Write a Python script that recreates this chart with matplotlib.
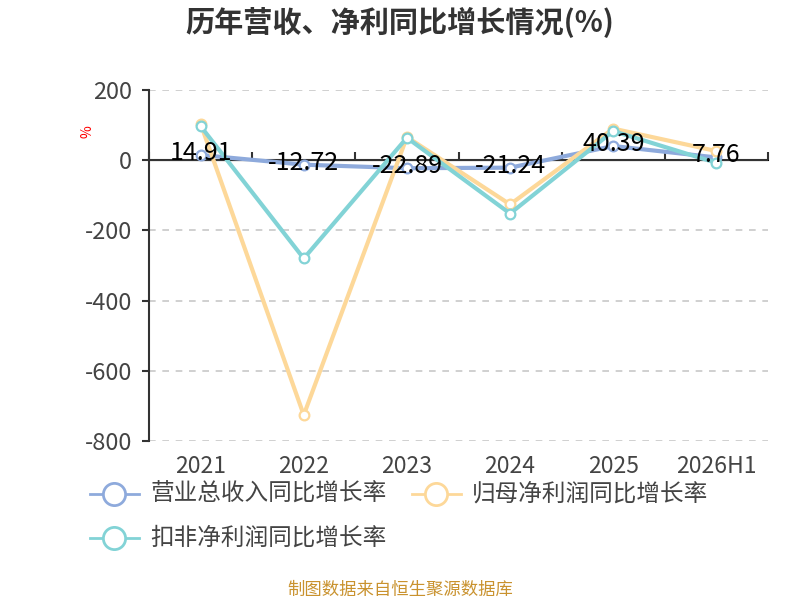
import matplotlib
matplotlib.use("Agg")
import matplotlib.pyplot as plt
from matplotlib.lines import Line2D

plt.rcParams['font.family'] = ['Noto Sans CJK SC', 'DejaVu Sans']
plt.rcParams['axes.unicode_minus'] = False

# data
years = ['2021', '2022', '2023', '2024', '2025', '2026H1']
revenue = [14.91, -12.72, -22.89, -21.24, 40.39, 7.76]
net_profit = [104, -726, 66, -126, 90, 26]
deducted = [97, -280, 64, -152, 83, -7.5]
names = ['营业总收入同比增长率', '归母净利润同比增长率', '扣非净利润同比增长率']
colors = ['#8eaadc', '#fdd899', '#82d3d6']

fig = plt.figure(figsize=(8, 6), dpi=100)
ax = fig.add_axes([0.18625, 0.265, 0.77375, 0.585])

x = list(range(len(years)))
# zero axis line
ax.axhline(0, color='#333333', lw=1.5, zorder=2)
for i, ys in enumerate([revenue, net_profit, deducted]):
    ax.plot(x, ys, color=colors[i], lw=3, marker='o', ms=7,
            mfc='white', mec=colors[i], mew=1.6, zorder=3 + i, clip_on=False)

for xi, v in zip(x, revenue):
    ax.annotate(f'{v:.2f}', (xi, v), xytext=(0, 1.5), textcoords='offset points',
                ha='center', va='center', fontsize=18, color='black', zorder=10)

ax.set_xlim(-0.5, len(years) - 0.5)
ax.set_ylim(-800, 200)
ax.set_yticks([200, 0, -200, -400, -600, -800])
ax.yaxis.grid(True, ls=(0, (4, 4)), color='#c8c8c8', lw=1.2)
ax.set_axisbelow(True)
ax.tick_params(axis='y', length=5, width=1.5, color='#333333', labelsize=17,
               labelcolor='#444444', pad=7)
ax.set_xticks(x)
ax.set_xticklabels(years)
ax.tick_params(axis='x', length=0, labelsize=16.5, labelcolor='#444444', pad=10)
for s in ['top', 'right', 'bottom']:
    ax.spines[s].set_visible(False)
ax.spines['left'].set_color('#333333')
ax.spines['left'].set_linewidth(1.5)

# boundary ticks on the zero line
sec = ax.secondary_xaxis(0.8)
sec.set_xticks([i - 0.5 for i in range(len(years) + 1)])
sec.set_xticklabels([])
sec.tick_params(length=6, width=1.5, color='#333333', direction='out')
sec.spines['bottom'].set_visible(False)

fig.text(87 / 800, 1 - 132 / 600, '%', rotation=90, color='red',
         fontsize=10, ha='center', va='center')

fig.text(0.5, 1 - 23 / 600, '历年营收、净利同比增长情况(%)', ha='center', va='center',
         fontsize=21, fontweight='bold', color='#333333')

# legend
legend_pos = [(90, 494), (412, 494), (90, 538)]
for (lx, ly), name, c in zip(legend_pos, names, colors):
    fy = 1 - ly / 600
    fig.add_artist(Line2D([lx / 800, (lx + 49) / 800], [fy, fy], color=c, lw=2,
                          transform=fig.transFigure))
    fig.add_artist(Line2D([(lx + 24) / 800], [fy], marker='o', ms=16, mfc='white',
                          mec=c, mew=2, transform=fig.transFigure))
    fig.text((lx + 60) / 800, fy, name, ha='left', va='center', fontsize=17,
             color='#444444')

fig.text(0.5, 1 - 590 / 600, '制图数据来自恒生聚源数据库', ha='center', va='center',
         fontsize=12.5, color='#c9922e')

fig.savefig('out.png', dpi=100)
